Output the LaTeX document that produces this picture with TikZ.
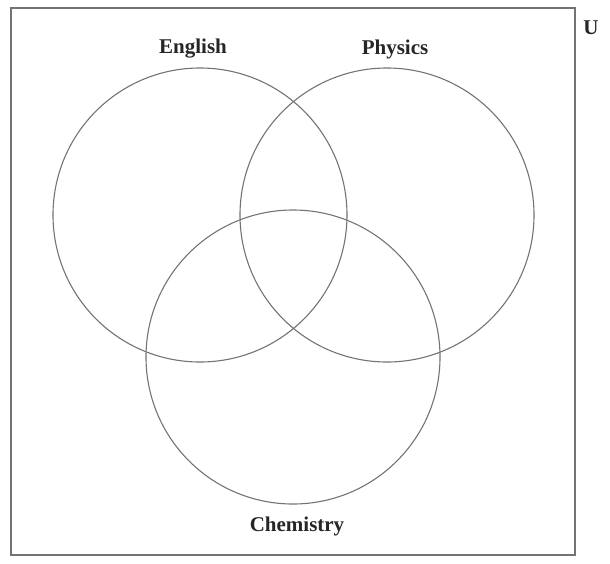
\documentclass[tikz,border=0pt]{standalone}
\usepackage{fontspec}
\setmainfont{Liberation Serif}
\begin{document}
\begin{tikzpicture}[x=1pt,y=-1pt,
  setcircle/.style={draw=black!55,line width=1.1pt},
  lbl/.style={font=\fontsize{21}{23}\selectfont\bfseries,text=black!85,inner sep=0pt}]
\useasboundingbox (0,0) rectangle (610,563);
\node[draw=black!55,line width=1.6pt,minimum width=564pt,minimum height=547pt,inner sep=0pt] (U) at (293,281.5) {};
\node[setcircle,circle,minimum size=294pt,inner sep=0pt] (E) at (200,215) {};
\node[setcircle,circle,minimum size=294pt,inner sep=0pt] (P) at (387,215) {};
\node[setcircle,circle,minimum size=294pt,inner sep=0pt] (C) at (293,357) {};
\node[lbl] (le) at (193,49) {English};
\node[lbl] (lp) at (395,49) {Physics};
\node[lbl] (lc) at (297,526) {Chemistry};
\node[lbl] (lu) at (591,28) {U};
\end{tikzpicture}
\end{document}
